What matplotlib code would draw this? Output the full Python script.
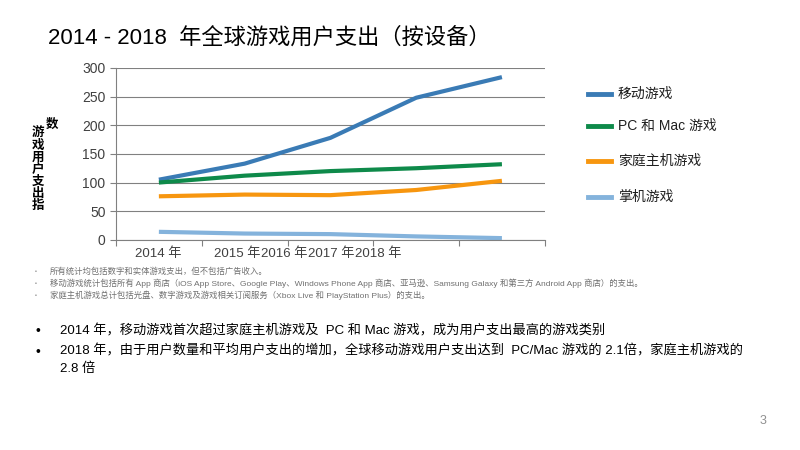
import matplotlib
matplotlib.use("Agg")
import matplotlib.pyplot as plt

plt.rcParams['font.family'] = ['Liberation Sans', 'Noto Sans CJK SC']

years = ["2014 年", "2015 年", "2016 年", "2017 年", "2018 年"]
series_names = ["移动游戏", "PC 和 Mac 游戏", "家庭主机游戏", "掌机游戏"]
mobile = [105, 133, 178, 248, 284]
pc = [100, 112, 120, 125, 132]
console = [76, 79, 78, 87, 103]
handheld = [14, 11, 10, 6, 3]
colors = ["#3a7bb5", "#0e8a4a", "#f7960f", "#84b3dc"]

fig = plt.figure(figsize=(8, 4.5), dpi=100)
fig.patch.set_facecolor("white")
ax = fig.add_axes([0.145, 0.467, 0.536, 0.382])
x = list(range(len(years)))
for vals, c in zip([mobile, pc, console, handheld], colors):
    ax.plot(x, vals, color=c, lw=3, solid_capstyle='butt')
ax.set_xlim(-0.5, 4.5)
ax.set_ylim(0, 300)
ax.set_yticks(range(0, 301, 50))
ax.yaxis.grid(True, color="#808080", lw=0.8)
ax.set_axisbelow(True)
for s in ["top", "right"]:
    ax.spines[s].set_visible(False)
ax.spines["left"].set_color("#808080")
ax.spines["bottom"].set_color("#808080")
ax.set_xticks([i - 0.5 for i in range(6)])
ax.set_xticklabels([])
ax.tick_params(axis='x', length=4, color="#808080")
ax.tick_params(axis='y', length=4, color="#808080", labelsize=10, labelcolor="#404040")
label_x = [158, 237, 284, 331, 378]
for lx, t in zip(label_x, years):
    fig.text(lx / 800, 1 - 254 / 450, t, ha="center", va="center", fontsize=9.5, color="#404040")

ylab = "游戏用户支出指"
fig.text(38/800, 1 - 170/450, "\n".join(ylab), ha="center", va="center", fontsize=9,
         fontweight="bold", linespacing=1.0)
fig.text(52/800, 1 - 125/450, "数", ha="center", va="center", fontsize=9, fontweight="bold")

leg_y = [94, 126, 161, 197]
for yy, name, c in zip(leg_y, series_names, colors):
    fig.add_artist(plt.Line2D([588/800, 611/800], [1 - yy/450]*2, color=c, lw=3.5))
    fig.text(618/800, 1 - yy/450, name, va="center", fontsize=10, color="#202020")

fig.text(0.06, 1 - 38/450, "2014 - 2018  年全球游戏用户支出（按设备）", fontsize=16, va="center", color="black")

notes = ["所有统计均包括数字和实体游戏支出，但不包括广告收入。",
         "移动游戏统计包括所有 App 商店（iOS App Store、Google Play、Windows Phone App 商店、亚马逊、Samsung Galaxy 和第三方 Android App 商店）的支出。",
         "家庭主机游戏总计包括光盘、数字游戏及游戏相关订阅服务（Xbox Live 和 PlayStation Plus）的支出。"]
for i, n in enumerate(notes):
    yy = 1 - (272 + i * 11.5) / 450
    fig.text(35/800, yy, "▪", fontsize=4, color="#999999", va="center")
    fig.text(50/800, yy, n, fontsize=6, color="#707070", va="center")

fig.text(35/800, 1 - 331/450, "•", fontsize=10, va="center")
fig.text(60/800, 1 - 331/450, "2014 年，移动游戏首次超过家庭主机游戏及  PC 和 Mac 游戏，成为用户支出最高的游戏类别",
         fontsize=9.5, va="center")
fig.text(35/800, 1 - 352/450, "•", fontsize=10, va="center")
fig.text(60/800, 1 - 344/450,
         "2018 年，由于用户数量和平均用户支出的增加，全球移动游戏用户支出达到  PC/Mac 游戏的 2.1倍，家庭主机游戏的\n2.8 倍",
         fontsize=9.5, va="top", linespacing=1.6)

fig.text(760/800, 1 - 424/450, "3", fontsize=9, color="#909090")

fig.savefig("out.png", dpi=100, facecolor="white")
